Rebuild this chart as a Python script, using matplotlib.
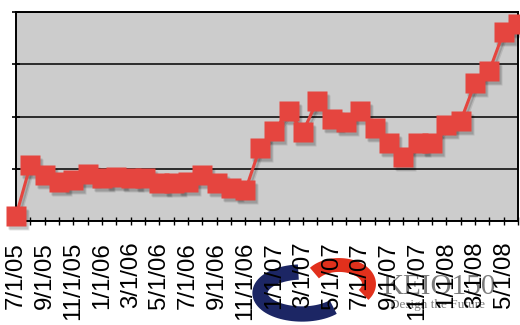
import numpy as np
import matplotlib
matplotlib.use('Agg')
import matplotlib.pyplot as plt
from matplotlib.transforms import ScaledTranslation

# monthly values, 7/1/05 .. 6/1/08
months = ['7/1/05', '8/1/05', '9/1/05', '10/1/05', '11/1/05', '12/1/05',
          '1/1/06', '2/1/06', '3/1/06', '4/1/06', '5/1/06', '6/1/06',
          '7/1/06', '8/1/06', '9/1/06', '10/1/06', '11/1/06', '12/1/06',
          '1/1/07', '2/1/07', '3/1/07', '4/1/07', '5/1/07', '6/1/07',
          '7/1/07', '8/1/07', '9/1/07', '10/1/07', '11/1/07', '12/1/07',
          '1/1/08', '2/1/08', '3/1/08', '4/1/08', '5/1/08', '6/1/08']
values = [2.4, 26.8, 22.0, 18.7, 19.6, 22.5,
          20.6, 21.1, 20.6, 20.6, 18.2, 18.2,
          18.7, 22.0, 18.2, 15.8, 14.8, 34.9,
          43.1, 52.6, 42.6, 57.4, 48.8, 47.4,
          52.6, 44.5, 37.3, 30.6, 37.3, 37.3,
          45.9, 47.8, 66.0, 71.8, 90.4, 94.3]
y_ticks = [0, 25, 50, 75, 100]

red = '#e5453f'

fig = plt.figure(figsize=(5.2, 3.25), dpi=100)
ax = fig.add_axes([16/520, 1 - 221/325, 502/520, 209/325], zorder=2)
ax.set_facecolor('#cccccc')

x = np.arange(len(values))

# soft drop shadow
for off, a in [(3, 0.10), (2, 0.15)]:
    tr = ax.transData + ScaledTranslation(off/100, -off*1.3/100, fig.dpi_scale_trans)
    ax.plot(x, values, color='k', alpha=a, lw=2.2, marker='s', ms=14.4,
            mec='none', transform=tr, clip_on=False, zorder=3)
ax.plot(x, values, color=red, lw=2.2, marker='s', ms=14.4, mec='none',
        clip_on=False, zorder=4)

ax.set_xlim(0, len(values) - 1)
ax.set_ylim(0, 100)
ax.set_yticks(y_ticks)
ax.set_yticklabels([])
ax.yaxis.grid(True, color='black', lw=1.1)
ax.set_axisbelow(True)

ax.set_xticks(x)
ax.set_xticklabels([m if i % 2 == 0 else '' for i, m in enumerate(months)],
                   rotation=90, fontfamily='Liberation Sans', fontsize=17.3,
                   va='top', ha='center')
ax.tick_params(axis='x', direction='inout', length=6, width=1, pad=12)
ax.tick_params(axis='y', direction='inout', length=6, width=1.2)
for s in ax.spines.values():
    s.set_linewidth(1.4)
    s.set_color('black')

# KEIO 150 watermark
lg = fig.add_axes([0, 0, 1, 1], zorder=1)
lg.set_xlim(0, 520)
lg.set_ylim(325, 0)
lg.axis('off')
t = np.linspace(np.radians(95), np.radians(318), 60)
lg.plot(302 + 42*np.cos(t), 293 - 21*np.sin(t), color='#0f1a5c', lw=11,
        solid_capstyle='butt', alpha=0.95)
t = np.linspace(np.radians(-35), np.radians(145), 60)
lg.plot(339 + 30*np.cos(t), 284 - 19*np.sin(t), color='#e0250f', lw=10,
        solid_capstyle='butt', alpha=0.95)
lg.text(382, 294, 'KEIO150', fontfamily='Liberation Serif', fontsize=21,
        color='#7a7a7a', va='baseline', ha='left')
lg.text(390, 308, 'Design the Future', fontfamily='Liberation Serif',
        fontsize=9.5, color='#7a7a7a', va='baseline', ha='left')

fig.savefig('out.png', dpi=100)
